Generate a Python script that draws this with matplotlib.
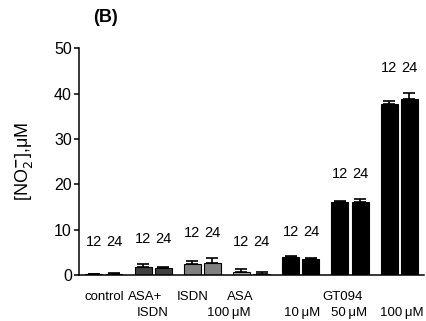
import numpy as np
import matplotlib
matplotlib.use('Agg')
import matplotlib.pyplot as plt
import matplotlib.transforms as mtrans

plt.rcParams['font.family'] = ['Liberation Sans', 'DejaVu Sans']

#%% data (12 h and 24 h, uM NO2-)
groups = ['control', 'ASA+ISDN', 'ISDN 100', 'ASA 100', 'GT094 10', 'GT094 50', 'GT094 100']
val_12 = [0.2, 1.8, 2.4, 0.7, 3.9, 16.0, 37.8]
err_12 = [0.1, 0.6, 0.7, 0.55, 0.2, 0.3, 0.6]
val_24 = [0.3, 1.5, 2.7, 0.3, 3.45, 16.15, 38.7]
err_24 = [0.1, 0.2, 1.0, 0.3, 0.3, 0.55, 1.4]
bar_colours = ['#1a1a1a', '#404040', '#808080', '#a8a8a8', 'black', 'black', 'black']
hour_labels = ['12', '24']

# category text under the axis: (text, x position, row)
cat_text = [('control', 0.0, 0), ('ASA+', 0.83, 0), ('ISDN', 1.0, 1),
            ('ISDN', 1.8, 0), ('ASA', 2.78, 0), ('100\u2009\u03bcM', 2.53, 1),
            ('GT094', 4.84, 0), ('10\u2009\u03bcM', 4.02, 1),
            ('50\u2009\u03bcM', 4.98, 1), ('100\u2009\u03bcM', 6.06, 1)]

#%% plot
fig = plt.figure(figsize=(4.26, 3.21), dpi=100)
ax = fig.add_axes([0.185, 0.143, 0.81, 0.707])

x = np.arange(len(groups))
w = 0.345
off = 0.205
for xs, vals, errs in [(x - off, val_12, err_12), (x + off, val_24, err_24)]:
    ax.bar(xs, vals, width=w, color=bar_colours, edgecolor='black', linewidth=0.8, zorder=2)
    ax.errorbar(xs, vals, yerr=[np.zeros(len(vals)), errs], fmt='none',
                ecolor='black', elinewidth=1.2, capsize=4.5, capthick=1.2, zorder=3)

# "12 24" above each pair
for i in range(len(groups)):
    top = max(val_12[i] + err_12[i], val_24[i] + err_24[i])
    ly = max(7.3, top + 5.5)
    for xs, lab in zip([x[i] - off, x[i] + off], hour_labels):
        ax.text(xs, ly, lab, ha='center', va='center', fontsize=10.5)

ax.set_xlim(-0.51, 6.5)
ax.set_ylim(0, 50)
ax.set_yticks([0, 10, 20, 30, 40, 50])
ax.set_xticks([])
ax.spines['top'].set_visible(False)
ax.spines['right'].set_visible(False)
ax.spines['left'].set_linewidth(1.1)
ax.spines['bottom'].set_linewidth(1.1)
ax.tick_params(axis='y', direction='out', length=3.5, width=1.1, pad=1.5, labelsize=11.5)
ax.set_ylabel('[NO$_2^{\\mathbf{-}}$],\u03bcM', fontsize=13, labelpad=14)

trans = mtrans.blended_transform_factory(ax.transData, ax.transAxes)
for txt, xp, row in cat_text:
    ax.text(xp, -0.095 - 0.072 * row, txt, transform=trans, ha='center', va='center', fontsize=9.5)

fig.text(0.247, 0.947, '(B)', ha='center', va='center', fontsize=13, fontweight='bold')

fig.savefig('out.png', dpi=100)
